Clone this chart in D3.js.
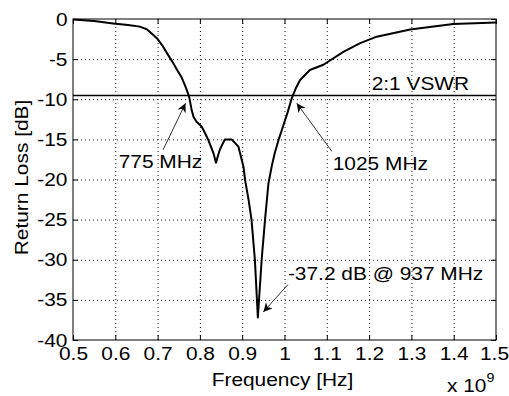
<!DOCTYPE html>
<html>
<head>
<meta charset="utf-8">
<script src="https://cdn.jsdelivr.net/npm/d3@7"></script>
<style>
  body { margin: 0; background: #fff; }
  svg { display: block; font-family: "Liberation Sans", Arial, sans-serif; }
  .grid line { stroke: #222; stroke-width: 1; stroke-dasharray: 1,3; }
  .curve { fill: none; stroke: #000; stroke-width: 2; stroke-linejoin: round; }
  .vswr { stroke: #000; stroke-width: 1.6; }
  .arrow { stroke: #333; stroke-width: 1; }
</style>
</head>
<body>
<svg width="509" height="396"></svg>
<script>
// frequency in GHz (axis shows x 10^9 Hz), return loss in dB
const freq = [0.50, 0.55, 0.595, 0.63, 0.658, 0.675, 0.69, 0.70, 0.713, 0.725, 0.737, 0.748, 0.757, 0.765, 0.770, 0.775,
  0.780, 0.785, 0.792, 0.804, 0.812, 0.820, 0.832, 0.838, 0.847, 0.859, 0.875, 0.891, 0.903, 0.907, 0.915, 0.922,
  0.930, 0.937, 0.946, 0.954, 0.962, 0.970, 0.977, 0.987, 0.997, 1.007, 1.017, 1.027, 1.037, 1.060, 1.092, 1.139,
  1.179, 1.218, 1.297, 1.399, 1.50];
const returnLoss = [-0.05, -0.25, -0.55, -0.75, -0.95, -1.3, -2.0, -2.5, -3.45, -4.5, -5.5, -6.5, -7.3, -8.3, -9.0, -9.8,
  -11.2, -12.2, -12.8, -13.4, -14.2, -15.1, -16.7, -17.9, -16.3, -15.0, -15.0, -15.9, -18.4, -20.1, -22.5, -25.0,
  -30.0, -37.2, -30.0, -25.0, -20.5, -18.3, -16.7, -14.9, -13.3, -11.7, -9.9, -8.6, -7.6, -6.35, -5.7, -4.1,
  -3.0, -2.2, -1.3, -0.62, -0.45];

const vswrLevel = -9.54;
const xTicks = [0.5, 0.6, 0.7, 0.8, 0.9, 1.0, 1.1, 1.2, 1.3, 1.4, 1.5];
const yTicks = [0, -5, -10, -15, -20, -25, -30, -35, -40];

// annotations: text, text anchor point, arrow start, arrow tip (data units)
const notes = [
  { label: "775 MHz", tx: 0.608, ty: -18.6, from: [0.713, -16.3], to: [0.766, -10.5] },
  { label: "1025 MHz", tx: 1.114, ty: -18.8, from: [1.112, -16.5], to: [1.029, -10.5] },
  { label: "-37.2 dB @ 937 MHz", tx: 1.008, ty: -32.5, from: [1.008, -33.1], to: [0.950, -36.5] }
];

const svg = d3.select("svg");
const fontSize = 19;
const stretch = "scale(1.1,1)";

const x = d3.scaleLinear().domain([0.5, 1.5]).range([73, 496]);
const y = d3.scaleLinear().domain([-40, 0]).range([340, 19]);

svg.append("rect").attr("width", 509).attr("height", 396).attr("fill", "#fff");

// dotted grid
const grid = svg.append("g").attr("class", "grid");
grid.selectAll("line.gx")
  .data(xTicks.slice(1, -1))
  .enter()
  .append("line")
  .attr("x1", d => x(d) + 0.5).attr("x2", d => x(d) + 0.5)
  .attr("y1", y(0)).attr("y2", y(-40));
grid.selectAll("line.gy")
  .data(yTicks.slice(1, -1))
  .enter()
  .append("line")
  .attr("x1", x(0.5)).attr("x2", x(1.5))
  .attr("y1", d => y(d) + 0.5).attr("y2", d => y(d) + 0.5);

// axes, ticks inside like matlab
const styleAxis = g => {
  g.attr("font-size", fontSize).attr("font-family", "Liberation Sans, Arial, sans-serif");
  g.select(".domain").remove();
  g.selectAll("line").attr("stroke", "#000");
  g.selectAll("text").attr("fill", "#000");
};

svg.append("g")
  .attr("transform", `translate(0,${y(-40)})`)
  .call(d3.axisBottom(x).tickValues(xTicks).tickSize(-5).tickPadding(7).tickFormat(d => String(+d.toFixed(1))))
  .call(styleAxis)
  .call(g => g.selectAll("text").attr("transform", (d, i) => (d === 1.5 ? "translate(-2,0) " : "") + stretch));

svg.append("g")
  .attr("transform", `translate(0,${y(0)})`)
  .call(d3.axisTop(x).tickValues(xTicks).tickSize(-5).tickFormat(""))
  .call(styleAxis);

svg.append("g")
  .attr("transform", `translate(${x(0.5)},0)`)
  .call(d3.axisLeft(y).tickValues(yTicks).tickSize(-5).tickPadding(5).tickFormat(d => String(d)))
  .call(styleAxis)
  .call(g => g.selectAll("text").attr("transform", stretch));

svg.append("g")
  .attr("transform", `translate(${x(1.5)},0)`)
  .call(d3.axisRight(y).tickValues(yTicks).tickSize(-5).tickFormat(""))
  .call(styleAxis);

svg.append("rect")
  .attr("x", x(0.5)).attr("y", y(0))
  .attr("width", x(1.5) - x(0.5)).attr("height", y(-40) - y(0))
  .attr("fill", "none").attr("stroke", "#000").attr("stroke-width", 1);

// 2:1 VSWR reference line
svg.append("line")
  .attr("class", "vswr")
  .attr("x1", x(0.5)).attr("x2", x(1.5))
  .attr("y1", y(vswrLevel)).attr("y2", y(vswrLevel));

svg.append("text")
  .attr("transform", `translate(${x(1.206)},${y(-8.9)}) ${stretch}`)
  .attr("font-size", fontSize)
  .text("2:1 VSWR");

// return loss curve
const points = freq.map((f, i) => [f, returnLoss[i]]);
const line = d3.line()
  .x(d => x(d[0]))
  .y(d => y(d[1]));

svg.append("path")
  .datum(points)
  .attr("class", "curve")
  .attr("d", line);

// annotations with arrows
svg.append("defs")
  .append("marker")
  .attr("id", "head")
  .attr("viewBox", "0 0 10 10")
  .attr("refX", 10).attr("refY", 5)
  .attr("markerWidth", 12).attr("markerHeight", 9)
  .attr("markerUnits", "userSpaceOnUse")
  .attr("orient", "auto")
  .append("path")
  .attr("d", "M0,0 L10,5 L0,10 L3,5 Z")
  .attr("fill", "#000");

notes.forEach(n => {
  svg.append("line")
    .attr("class", "arrow")
    .attr("x1", x(n.from[0])).attr("y1", y(n.from[1]))
    .attr("x2", x(n.to[0])).attr("y2", y(n.to[1]))
    .attr("marker-end", "url(#head)");
  svg.append("text")
    .attr("transform", `translate(${x(n.tx)},${y(n.ty)}) ${stretch}`)
    .attr("font-size", fontSize)
    .text(n.label);
});

// axis labels
svg.append("text")
  .attr("transform", `translate(${x(1.0) - 2},386) ${stretch}`)
  .attr("text-anchor", "middle")
  .attr("font-size", fontSize)
  .text("Frequency [Hz]");

svg.append("text")
  .attr("transform", `translate(28,${(y(0) + y(-40)) / 2 - 2}) rotate(-90) ${stretch}`)
  .attr("text-anchor", "middle")
  .attr("font-size", fontSize)
  .text("Return Loss [dB]");

const mult = svg.append("text")
  .attr("transform", `translate(447,392) ${stretch}`)
  .attr("font-size", fontSize);
mult.append("tspan").text("x 10");
mult.append("tspan").attr("dy", -10).attr("font-size", 13).text("9");
</script>
</body>
</html>
